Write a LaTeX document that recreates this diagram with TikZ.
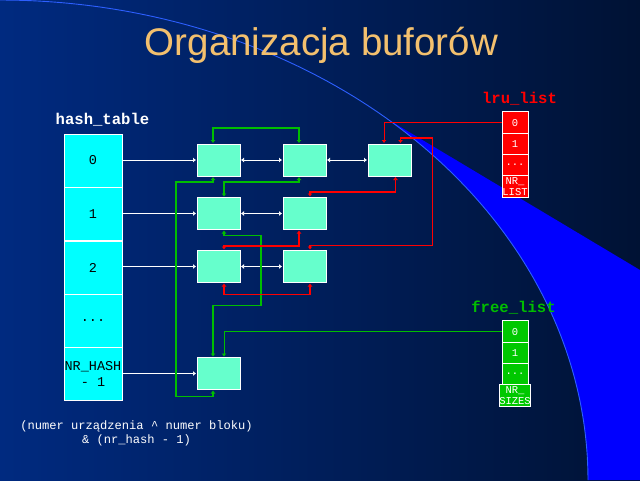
\documentclass[tikz,border=0pt]{standalone}
\usepackage{fontspec}
\setmainfont{Liberation Sans}
\newfontfamily\mono{Liberation Mono}
\usetikzlibrary{arrows.meta,calc}
\definecolor{bgleft}{RGB}{0,42,128}
\definecolor{bgright}{RGB}{0,18,52}
\definecolor{arcline}{RGB}{45,95,255}
\definecolor{bluefill}{RGB}{0,0,255}
\definecolor{hcyan}{RGB}{0,255,255}
\definecolor{aqua}{RGB}{102,255,204}
\definecolor{lgreen}{RGB}{0,190,0}
\definecolor{fgreen}{RGB}{0,200,0}
\definecolor{titlecol}{RGB}{243,192,110}
\begin{document}
\begin{tikzpicture}[x=1pt,y=-1pt,
  >={Latex[length=3pt,width=5pt]},
  hcell/.style={draw=white, line width=1pt, fill=hcyan, minimum width=58pt, minimum height=53pt, inner sep=0pt, font=\mono\fontsize{13.5}{16}\selectfont, align=center, text=black},
  buf/.style={draw=white, line width=1pt, fill=aqua, minimum width=43pt, minimum height=32pt, inner sep=0pt, outer sep=1pt},
  lcell/.style={draw=white, line width=1pt, minimum width=26pt, minimum height=21.25pt, inner sep=0pt, text=white, font=\mono\fontsize{10.5}{11}\selectfont, align=center},
  lbl/.style={font=\mono\bfseries\fontsize{15.6}{18}\selectfont, inner sep=0pt, anchor=base},
  wl/.style={draw=white, line width=1pt},
  gl/.style={draw=lgreen, line width=1.3pt},
  rl/.style={draw=red, line width=1.3pt},
  thinl/.style={line width=0.8pt}]
\useasboundingbox (0,0) rectangle (640,480);
% background
\shade[left color=bgleft, right color=bgright] (0,0) rectangle (640,480);
\fill[bluefill] (388,119.4) -- (640,270) -- (640,480) -- (588,480)
  -- plot[domain=90:41.3, samples=60] ({588*sin(\x)}, {480-480*cos(\x)}) -- cycle;
\draw[arcline, line width=0.9pt] plot[domain=0:90, samples=120] ({588*sin(\x)}, {480-480*cos(\x)});
% title
\node[font=\fontsize{38.5}{44}\selectfont, text=titlecol, anchor=base, inner sep=0pt] (title) at (321.5,55) {Organizacja buforów};
% hash table
\node[lbl, text=white] (hlabel) at (102.5,124) {hash\_table};
\node[hcell] (h0) at (93,160.5) {0};
\node[hcell] (h1) at (93,214) {1};
\node[hcell] (h2) at (93,267.5) {2};
\node[hcell] (h3) at (93,320.5) {...};
\node[hcell] (h4) at (93,373.5) {NR\_HASH\\- 1};
% buffers
\node[buf] (b00) at (218.5,160) {};
\node[buf] (b01) at (304.5,160) {};
\node[buf] (b02) at (389.5,160) {};
\node[buf] (b10) at (218.5,213.5) {};
\node[buf] (b11) at (304.5,213.5) {};
\node[buf] (b20) at (218.5,266.5) {};
\node[buf] (b21) at (304.5,266.5) {};
\node[buf] (b30) at (218.5,373.5) {};
% lru list
\node[lbl, text=red] (llabel) at (519.5,103.5) {lru\_list};
\node[lcell, fill=red] (l0) at (515,122.6) {0};
\node[lcell, fill=red] (l1) at (515,143.9) {1};
\node[lcell, fill=red] (l2) at (515,165.1) {...};
\node[lcell, fill=red] (l3) at (515,186.4) {NR\_\\LIST};
% free list
\node[lbl, text=lgreen] (flabel) at (513.5,312) {free\_list};
\node[lcell, fill=fgreen] (f0) at (515,331.6) {0};
\node[lcell, fill=fgreen] (f1) at (515,352.9) {1};
\node[lcell, fill=fgreen] (f2) at (515,374.1) {...};
\node[lcell, fill=fgreen] (f3) at (515,395.4) {NR\_\\SIZES};
% hash arrows
\draw[wl,->] (h0.east |- b00.west) -- (b00.west);
\draw[wl,->] (h1.east |- b10.west) -- (b10.west);
\draw[wl,->] (h2.east |- b20.west) -- (b20.west);
\draw[wl,->] (h4.east |- b30.west) -- (b30.west);
% chain arrows
\draw[wl,<->] (b00.east) -- (b01.west);
\draw[wl,<->] (b01.east) -- (b02.west);
\draw[wl,<->] (b10.east) -- (b11.west);
\draw[wl,<->] (b20.east) -- (b21.west);
% green free-list links
\draw[gl,<->] ([xshift=-5.5pt]b00.north) -- ++(0,-15) -| ([xshift=-5.5pt]b01.north);
\draw[gl,<->] ([xshift=-5.5pt]b00.south) -- ++(0,5) -- ++(-37,0) |- ($([xshift=-5.5pt]b30.south)+(0,6)$) -- ([xshift=-5.5pt]b30.south);
\draw[gl,<->] ([xshift=-5.5pt]b01.south) -- ++(0,5) -| ([xshift=5.5pt]b10.north);
\draw[gl,<->] ([xshift=5.5pt]b10.south) -- ++(0,5) -- ++(37,0) -- ++(0,70) -| ([xshift=-5.5pt]b30.north);
\draw[gl,thinl,->] (f0.west) -| ([xshift=5.5pt]b30.north);
% red lru links
\draw[rl,thinl,->] (l0.west) -| ([xshift=-5.5pt]b02.north);
\draw[rl,<->] ([xshift=11pt]b02.north) -- ++(0,-5) -- ++(32,0) |- ($([xshift=5.5pt]b21.north)+(0,-4)$) -- ([xshift=5.5pt]b21.north);
\draw[rl,<->] ([xshift=6pt]b02.south) -- ++(0,15) -| ([xshift=5.5pt]b11.north);
\draw[rl,<->] ([xshift=-5.5pt]b11.south) -- ++(0,15.5) -| ([xshift=5.5pt]b20.north);
\draw[rl,<->] ([xshift=5.5pt]b20.south) -- ++(0,11) -| ([xshift=5.5pt]b21.south);
% formula
\node[font=\mono\fontsize{12.1}{14}\selectfont, text=white, align=center, inner sep=0pt, anchor=north] (formula) at (136.5,421) {(numer urządzenia \textasciicircum{} numer bloku)\\\& (nr\_hash - 1)};
\end{tikzpicture}
\end{document}
